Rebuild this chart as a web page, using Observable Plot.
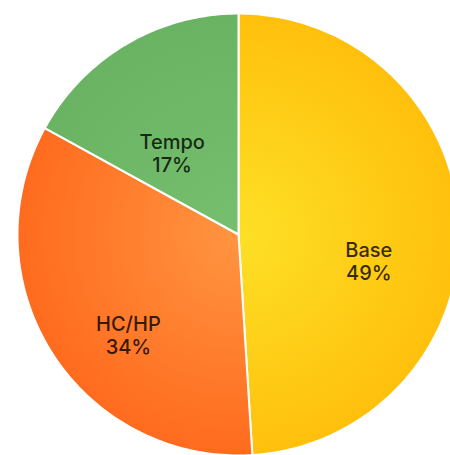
<!DOCTYPE html>
<html>
<head>
<meta charset="utf-8">
<script src="https://cdn.jsdelivr.net/npm/d3@7"></script>
<script src="https://cdn.jsdelivr.net/npm/@observablehq/plot@0.6"></script>
<style>
  html, body { margin: 0; padding: 0; background: #fff; overflow: hidden; }
</style>
</head>
<body>
<div id="chart"></div>
<script>
// Data
const categories = ["Base", "HC/HP", "Tempo"];
const percents = [49, 34, 17];
const innerColors = ["#FDE026", "#FF9541", "#76BF6F"];
const outerColors = ["#FFC00C", "#FF6B1E", "#69B362"];
const gradientIds = ["g-base", "g-hchp", "g-tempo"];

// Layout
const W = 450, H = 455, CX = 238, CY = 234, R = 221;

// Build slice polygons (unit circle coordinates, clockwise from 12 o'clock)
const total = d3.sum(percents);
let acc = 0;
const slices = categories.map((cat, i) => {
  const a0 = acc / total * 2 * Math.PI;
  acc += percents[i];
  const a1 = acc / total * 2 * Math.PI;
  return {cat, pct: percents[i], a0, a1};
});
const points = [];
for (const s of slices) {
  points.push({cat: s.cat, x: 0, y: 0});
  const n = Math.max(2, Math.ceil((s.a1 - s.a0) / (Math.PI / 180)));
  for (let k = 0; k <= n; k++) {
    const a = s.a0 + (s.a1 - s.a0) * k / n;
    points.push({cat: s.cat, x: Math.sin(a), y: Math.cos(a)});
  }
}
const labels = slices.map(s => {
  const m = (s.a0 + s.a1) / 2;
  return {cat: s.cat, text: `${s.cat}\n${s.pct}%`, x: 0.59 * Math.sin(m), y: 0.59 * Math.cos(m)};
});

const plot = Plot.plot({
  width: W,
  height: H,
  margin: 0,
  x: {domain: [-CX / R, (W - CX) / R], axis: null},
  y: {domain: [-(H - CY) / R, CY / R], axis: null},
  color: {domain: categories, range: gradientIds.map(id => `url(#${id})`)},
  style: {background: "white", fontFamily: "Inter, 'Noto Sans', sans-serif"},
  marks: [
    Plot.line(points, {
      x: "x", y: "y", z: "cat", fill: "cat",
      stroke: "white", strokeWidth: 2, strokeLinejoin: "round",
      curve: "linear-closed", clip: true
    }),
    Plot.text(labels, {
      x: "x", y: "y", text: "text", dy: 31,
      fontSize: 20, fontWeight: 500, fill: "black", fillOpacity: 0.8,
      lineAnchor: "middle", lineHeight: 1.12
    })
  ]
});

// Radial gradients centred on the pie centre
const sx = plot.scale("x"), sy = plot.scale("y");
const gcx = sx.apply(0), gcy = sy.apply(0), gr = sx.apply(1) - sx.apply(0);
const defs = d3.select(plot).insert("defs", ":first-child");
gradientIds.forEach((id, i) => {
  const g = defs.append("radialGradient")
    .attr("id", id)
    .attr("gradientUnits", "userSpaceOnUse")
    .attr("cx", gcx).attr("cy", gcy).attr("r", gr);
  g.append("stop").attr("offset", "0%").attr("stop-color", innerColors[i]);
  g.append("stop").attr("offset", "100%").attr("stop-color", outerColors[i]);
});

document.getElementById("chart").appendChild(plot);
</script>
</body>
</html>
